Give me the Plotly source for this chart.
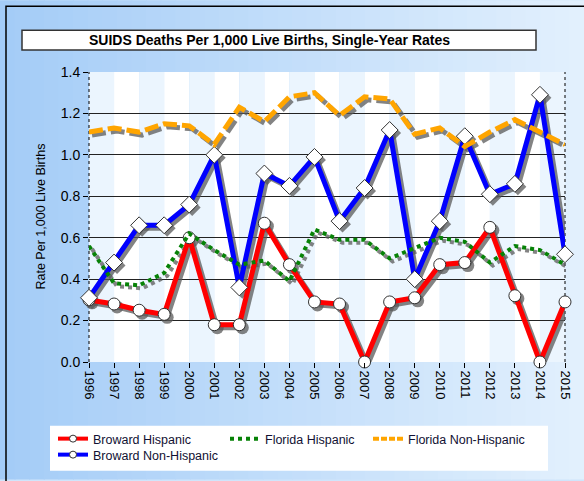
import plotly.graph_objects as go

# ---------------------------------------------------------------------------
# Data
# ---------------------------------------------------------------------------

years = list(range(1996, 2016))
broward_hispanic = [0.30, 0.28, 0.25, 0.23, 0.60, 0.18, 0.18, 0.67, 0.47, 0.29,
                    0.28, 0.00, 0.29, 0.31, 0.47, 0.48, 0.65, 0.32, 0.00, 0.29]
broward_non_hispanic = [0.31, 0.48, 0.66, 0.66, 0.76, 1.00, 0.36, 0.91, 0.85, 0.99,
                        0.68, 0.84, 1.12, 0.40, 0.68, 1.09, 0.81, 0.86, 1.29, 0.52]
florida_hispanic = [0.56, 0.38, 0.37, 0.43, 0.62, 0.54, 0.47, 0.49, 0.39, 0.64,
                    0.59, 0.59, 0.50, 0.55, 0.60, 0.58, 0.48, 0.56, 0.54, 0.47]
florida_non_hispanic = [1.11, 1.13, 1.11, 1.15, 1.14, 1.05, 1.23, 1.16, 1.28, 1.30,
                        1.19, 1.28, 1.27, 1.10, 1.13, 1.04, 1.11, 1.17, 1.11, 1.05]
y_ticks = [0.0, 0.2, 0.4, 0.6, 0.8, 1.0, 1.2, 1.4]

TITLE = "SUIDS Deaths Per 1,000 Live Births, Single-Year Rates"
Y_TITLE = "Rate Per 1,000 Live Births"
FONT = "Liberation Sans, Arial, sans-serif"

# ---------------------------------------------------------------------------
# Geometry (pixels)
# ---------------------------------------------------------------------------

W, H = 584, 481
PL, PR, PT, PB = 89, 565, 72, 363   # plot area edges
PW, PH = PR - PL, PB - PT

X_MIN, X_MAX = years[0], years[-1]
Y_MIN, Y_MAX = 0.0, 1.4
SHADOW_PX = 3
dx = SHADOW_PX * (X_MAX - X_MIN) / PW
dy = SHADOW_PX * (Y_MAX - Y_MIN) / PH


def px_x(x):
    return (x - PL) / PW


def px_y(y):
    return (PB - y) / PH


def _mix(c1, c2, t):
    return "rgb({},{},{})".format(*[round(a + (b - a) * t) for a, b in zip(c1, c2)])


# ---------------------------------------------------------------------------
# Series styles
# ---------------------------------------------------------------------------

series = [
    ("Broward Hispanic", broward_hispanic, "#ff0000", "solid", 5, "circle", "legend"),
    ("Broward Non-Hispanic", broward_non_hispanic, "#0000ff", "solid", 5, "diamond", "legend2"),
    ("Florida Hispanic", florida_hispanic, "#078207", "dot", 4, None, "legend3"),
    ("Florida Non-Hispanic", florida_non_hispanic, "#ffa500", "14px,5px", 5, None, "legend4"),
]
SHADOW = "rgba(90,90,90,0.75)"

fig = go.Figure()

# shadows on the (hidden, shifted) primary axes
for name, vals, color, dash, width, symbol, _ in series:
    fig.add_trace(
        go.Scatter(
            x=years, y=vals, xaxis="x", yaxis="y",
            mode="lines+markers" if symbol else "lines",
            line={"color": SHADOW, "width": width, "dash": dash},
            marker={"symbol": symbol or "circle", "size": 13, "color": SHADOW},
            showlegend=False, hoverinfo="skip", cliponaxis=False,
        )
    )

# coloured series on the visible overlay axes
for name, vals, color, dash, width, symbol, legend in series:
    fig.add_trace(
        go.Scatter(
            x=years, y=vals, xaxis="x2", yaxis="y2", name=name,
            mode="lines+markers" if symbol else "lines",
            line={"color": color, "width": width, "dash": dash},
            marker={"symbol": symbol or "circle", "size": 12 if symbol == "circle" else 13,
                    "color": "white", "line": {"color": "#333333", "width": 1}},
            showlegend=False, cliponaxis=False,
        )
    )
    # legend-only entry with smaller symbols, like the original key
    fig.add_trace(
        go.Scatter(
            x=[None], y=[None], xaxis="x2", yaxis="y2", name=name, legend=legend,
            mode="lines+markers" if symbol else "lines",
            line={"color": color, "width": 4, "dash": "dot" if dash == "dot" else
                  ("6px,2px" if dash != "solid" else "solid")},
            marker={"symbol": "circle", "size": 7, "color": "white",
                    "line": {"color": "#333333", "width": 1}},
        )
    )

# ---------------------------------------------------------------------------
# Background shapes
# ---------------------------------------------------------------------------

shapes = []
n_strips = 40
left_col, right_col = (164, 204, 247), (226, 240, 253)
for i in range(n_strips):
    x0 = i * W / n_strips
    x1 = (i + 1) * W / n_strips + 1
    shapes.append(dict(type="rect", xref="paper", yref="paper", layer="below",
                       x0=px_x(x0), x1=px_x(x1), y0=px_y(H), y1=px_y(0),
                       line={"width": 0},
                       fillcolor=_mix(left_col, right_col, i / (n_strips - 1))))

# outer border (top and left visible)
shapes.append(dict(type="rect", xref="paper", yref="paper", layer="below",
                   x0=px_x(6), x1=px_x(W + 10), y0=px_y(H + 10), y1=px_y(6),
                   line={"color": "black", "width": 1.5}))

# alternating year bands inside the plot area
n_bands = len(years) - 1
for i in range(n_bands):
    shapes.append(dict(type="rect", xref="paper", yref="paper", layer="below",
                       x0=i / n_bands, x1=(i + 1) / n_bands, y0=0, y1=1,
                       line={"width": 0},
                       fillcolor="#ebf5fe" if i % 2 == 0 else "white"))

# dotted verticals at plot edges
for xe in (0, 1):
    shapes.append(dict(type="line", xref="paper", yref="paper", layer="below",
                       x0=xe, x1=xe, y0=0, y1=1,
                       line={"color": "black", "width": 1, "dash": "dot"}))

# title box
shapes.append(dict(type="rect", xref="paper", yref="paper", layer="below",
                   x0=px_x(22), x1=px_x(536), y0=px_y(50), y1=px_y(30),
                   fillcolor="white", line={"color": "#333333", "width": 1.5}))

# legend box
shapes.append(dict(type="rect", xref="paper", yref="paper", layer="below",
                   x0=px_x(50), x1=px_x(548), y0=px_y(472), y1=px_y(427),
                   fillcolor="white", line={"width": 0}))

annotations = [
    dict(text=f"<b>{TITLE}</b>", xref="paper", yref="paper",
         x=px_x(269), y=px_y(40), xanchor="center", yanchor="middle",
         showarrow=False, font={"family": FONT, "size": 14, "color": "black"}),
    dict(text=Y_TITLE, xref="paper", yref="paper", textangle=-90,
         x=px_x(41), y=px_y(217), xanchor="center", yanchor="middle",
         showarrow=False, font={"family": FONT, "size": 12.5, "color": "black"}),
]


def _legend(xpx, ypx):
    return dict(x=px_x(xpx), y=px_y(ypx), xanchor="left", yanchor="middle",
                bgcolor="rgba(0,0,0,0)", borderwidth=0,
                font={"family": FONT, "size": 12.5, "color": "#111133"},
                itemwidth=30)


fig.update_layout(
    width=W, height=H,
    margin={"l": PL, "r": W - PR, "t": PT, "b": H - PB, "pad": 0},
    paper_bgcolor="#cfe5fb", plot_bgcolor="white",
    font={"family": FONT, "size": 12, "color": "black"},
    shapes=shapes, annotations=annotations,
    legend=_legend(53, 439),
    legend2=_legend(53, 455),
    legend3=_legend(225, 439),
    legend4=_legend(368, 439),
    xaxis=dict(range=[X_MIN - dx, X_MAX - dx], visible=False, fixedrange=True),
    yaxis=dict(range=[Y_MIN + dy, Y_MAX + dy], visible=False, fixedrange=True),
    xaxis2=dict(overlaying="x", side="bottom", range=[X_MIN, X_MAX],
                tickvals=years, ticktext=[str(y) for y in years], tickangle=90,
                ticks="outside", ticklen=5, tickcolor="black",
                showgrid=False, zeroline=False, showline=False,
                tickfont={"family": FONT, "size": 13, "color": "black"}),
    yaxis2=dict(overlaying="y", side="left", range=[Y_MIN, Y_MAX],
                tickvals=y_ticks, tickformat=".1f",
                ticks="outside", ticklen=5, tickcolor="black",
                showgrid=True, gridcolor="#222222", gridwidth=1,
                zeroline=False, showline=False,
                tickfont={"family": FONT, "size": 14, "color": "black"}),
)

fig.write_html(
    "out.html",
    config={"displayModeBar": False},
    post_script="document.body.style.margin='0';document.body.style.overflow='hidden';",
)
